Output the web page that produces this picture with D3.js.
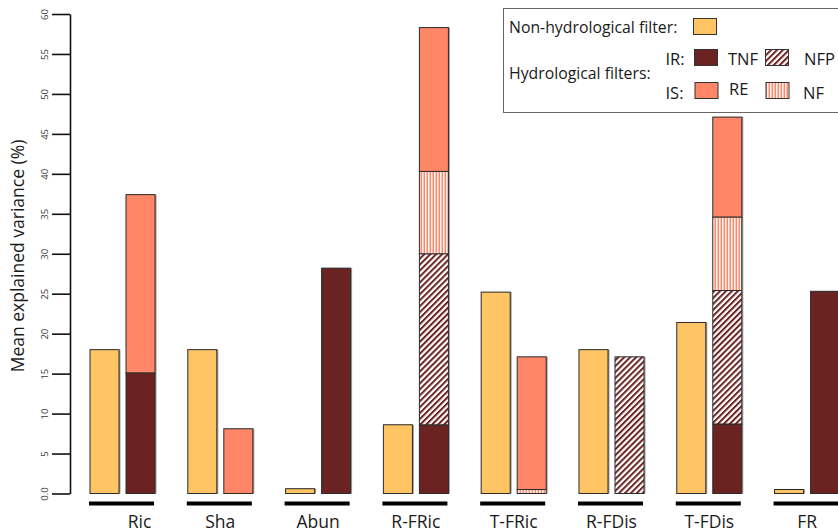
<!DOCTYPE html>
<html>
<head>
<meta charset="utf-8">
<script src="https://cdn.jsdelivr.net/npm/d3@7"></script>
<style>
  html, body { margin: 0; padding: 0; background: #fff; }
  svg { display: block; }
  text { font-family: "Open Sans", "Noto Sans", sans-serif; fill: #1a1a1a; }
</style>
</head>
<body>
<svg id="chart" width="838" height="532"></svg>
<script>
// Metrics along the x axis
const categories = ["Ric", "Sha", "Abun", "R-FRic", "T-FRic", "R-FDis", "T-FDis", "FR"];

// Mean explained variance (%) by filter
const nonHydro = [18.0, 18.0, 0.6, 8.6, 25.2, 18.0, 21.4, 0.5];
const tnf      = [15.1, 0,    28.2, 8.6, 0,    0,    8.7,  25.3];
const nfp      = [0,    0,    0,    21.4, 0,   17.1, 16.7, 0];
const nf       = [0,    0,    0,    10.3, 0.5, 0,    9.2,  0];
const re       = [22.3, 8.1,  0,    18.0, 16.6, 0,   12.5, 0];

const yTicks = [0, 5, 10, 15, 20, 25, 30, 35, 40, 45, 50, 55, 60];
const yTickLabels = ["0.0", "5", "10", "15", "20", "25", "30", "35", "40", "45", "50", "55", "60"];

const colors = {
  yellow: "#FFC464",
  dark: "#6B2321",
  salmon: "#FF8667"
};

const svg = d3.select("#chart");
const defs = svg.append("defs");

// Diagonal hatching for NFP
const pNfp = defs.append("pattern")
  .attr("id", "hatch-nfp")
  .attr("patternUnits", "userSpaceOnUse")
  .attr("width", 4.2).attr("height", 4.2)
  .attr("patternTransform", "rotate(45)");
pNfp.append("rect").attr("width", 4.2).attr("height", 4.2).attr("fill", "#fff");
pNfp.append("line").attr("x1", 1).attr("x2", 1).attr("y1", 0).attr("y2", 4.2)
  .attr("stroke", colors.dark).attr("stroke-width", 2);

// Vertical stripes for NF
const pNf = defs.append("pattern")
  .attr("id", "stripe-nf")
  .attr("patternUnits", "userSpaceOnUse")
  .attr("width", 3).attr("height", 3);
pNf.append("rect").attr("width", 3).attr("height", 3).attr("fill", "#fff");
pNf.append("rect").attr("x", 0.5).attr("width", 1.6).attr("height", 3).attr("fill", colors.salmon);

const fills = {
  tnf: colors.dark,
  nfp: "url(#hatch-nfp)",
  nf: "url(#stripe-nf)",
  re: colors.salmon
};

// Scales
const y = d3.scaleLinear().domain([0, 60]).range([493.5, 14]);
const x = d3.scaleBand().domain(categories).range([90, 839.6]).paddingInner(0.335).paddingOuter(0);
const xi = d3.scaleBand().domain(["non", "hydro"]).range([0, x.bandwidth()]).paddingInner(0.194);

// Y axis
const yAxis = d3.axisLeft(y)
  .tickValues(yTicks)
  .tickFormat((d, i) => yTickLabels[i])
  .tickSize(18)
  .tickSizeOuter(0);

const gy = svg.append("g").attr("transform", "translate(70,0)").call(yAxis);
gy.select(".domain").attr("stroke", "#111").attr("stroke-width", 1.6);
gy.selectAll(".tick line").attr("stroke", "#111").attr("stroke-width", 1.6);
gy.selectAll(".tick text")
  .attr("transform", "rotate(-90)")
  .attr("x", 0).attr("y", -22).attr("dy", 0)
  .attr("text-anchor", "middle")
  .style("font-size", "9.5px")
  .style("fill", "#3a3a3a");

svg.append("text")
  .attr("transform", "translate(24,256) rotate(-90)")
  .attr("text-anchor", "middle")
  .style("font-size", "17.5px")
  .text("Mean explained variance (%)");

// Bars with a faint right-hand shadow
function drawBar(g, x0, w, v0, v1, fill) {
  if (v1 - v0 <= 0) return;
  g.append("rect")
    .attr("x", x0 + 1.5).attr("y", y(v1)).attr("width", w).attr("height", y(v0) - y(v1))
    .attr("fill", "#a0a0a0");
  g.append("rect")
    .attr("x", x0).attr("y", y(v1)).attr("width", w).attr("height", y(v0) - y(v1))
    .attr("fill", fill).attr("stroke", "#2b2b2b").attr("stroke-width", 1);
}

const rows = categories.map((c, i) => ({ cat: c, tnf: tnf[i], nfp: nfp[i], nf: nf[i], re: re[i] }));
const keys = ["tnf", "nfp", "nf", "re"];
const stacked = d3.stack().keys(keys)(rows);

const gBars = svg.append("g");
categories.forEach((c, i) => {
  const g = gBars.append("g");
  const x0 = x(c);
  drawBar(g, x0 + xi("non"), xi.bandwidth(), 0, nonHydro[i], colors.yellow);
  stacked.forEach(layer => {
    const seg = layer[i];
    drawBar(g, x0 + xi("hydro"), xi.bandwidth(), seg[0], seg[1], fills[layer.key]);
  });
});

// Group underlines and labels
const labelNudge = { "Ric": 17 };
categories.forEach(c => {
  svg.append("rect")
    .attr("x", x(c) - 1).attr("y", 501.5)
    .attr("width", x.bandwidth()).attr("height", 4)
    .attr("fill", "#000");
  svg.append("text")
    .attr("x", x(c) + x.bandwidth() / 2 + (labelNudge[c] || 0))
    .attr("y", 528)
    .attr("text-anchor", "middle")
    .style("font-size", "17.5px")
    .text(c);
});

// Legend
const lg = svg.append("g");
lg.append("rect")
  .attr("x", 503.5).attr("y", 8.5).attr("width", 345).attr("height", 104)
  .attr("fill", "#fff").attr("stroke", "#666").attr("stroke-width", 1);

const legendText = (tx, ty, s, size) => lg.append("text")
  .attr("x", tx).attr("y", ty).style("font-size", (size || 15.8) + "px").text(s);
const swatch = (sx, sy, fill) => lg.append("rect")
  .attr("x", sx).attr("y", sy).attr("width", 23).attr("height", 16)
  .attr("fill", fill).attr("stroke", "#333").attr("stroke-width", 1);

legendText(509, 33, "Non-hydrological filter:");
swatch(693.5, 18.5, colors.yellow);

legendText(509, 79, "Hydrological filters:");

legendText(665.5, 64.5, "IR:", 16.5);
swatch(694.5, 49.5, fills.tnf);
legendText(728, 64.5, "TNF", 16.5);
swatch(765.5, 49.5, fills.nfp);
legendText(804, 64.5, "NFP", 16.5);

legendText(665.5, 99, "IS:", 16.5);
swatch(695, 82.5, fills.re);
legendText(729, 95, "RE", 16.5);
swatch(766, 82.5, fills.nf);
legendText(803, 99, "NF", 16.5);
</script>
</body>
</html>
